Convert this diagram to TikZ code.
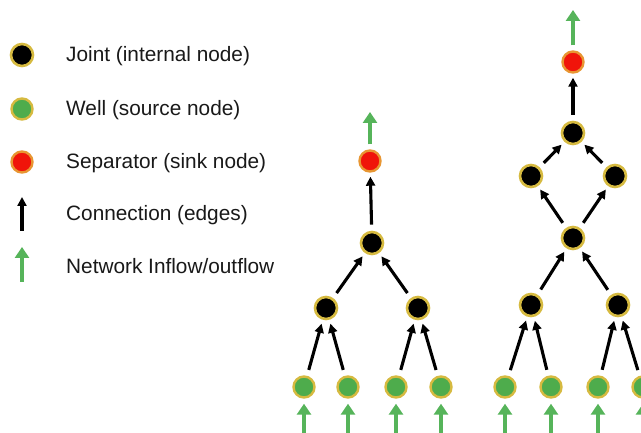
\documentclass[tikz,border=0pt]{standalone}
\usepackage{fontspec}
\setmainfont{Liberation Sans}
\usetikzlibrary{arrows.meta}
\definecolor{ringY}{RGB}{214,186,64}
\definecolor{ringO}{RGB}{232,150,50}
\definecolor{wellG}{RGB}{78,172,76}
\definecolor{flowG}{RGB}{86,180,90}
\definecolor{sepR}{RGB}{240,20,10}
\definecolor{txt}{RGB}{25,25,25}
\tikzset{
  joint/.style={circle, fill=black, draw=ringY, line width=2.6pt, minimum size=22pt, inner sep=0pt},
  well/.style={circle, fill=wellG, draw=ringY, line width=2.4pt, minimum size=21pt, inner sep=0pt},
  sep/.style={circle, fill=sepR, draw=ringO, line width=2.4pt, minimum size=21pt, inner sep=0pt},
  conn/.style={draw=black, line width=3.1pt, -{Triangle[length=9pt,width=9pt]}, shorten <=6pt, shorten >=4pt},
  flow/.style={draw=flowG, line width=4.6pt, -{Triangle[length=11pt,width=14pt]}},
  legtxt/.style={anchor=west, text=txt, font=\fontsize{20.8}{24}\selectfont, inner sep=0pt}
}
\begin{document}
\begin{tikzpicture}[x=1pt,y=-1pt]
\useasboundingbox (0,0) rectangle (641,433);
\clip (0,0) rectangle (641,433);
\fill[white] (0,0) rectangle (641,433);
% legend
\node[joint] (lj) at (22,55) {};
\node[well] (lw) at (22,109) {};
\node[sep] (ls) at (22,162) {};
\coordinate (lcA) at (22,231);
\coordinate (lcB) at (22,197);
\draw[draw=black, line width=3.1pt, -{Triangle[length=9pt,width=9pt]}] (lcA) -- (lcB);
\coordinate (lfA) at (22,282);
\coordinate (lfB) at (22,247);
\draw[flow] (lfA) -- (lfB);
\node[legtxt] (tj) at (66,56) {Joint (internal node)};
\node[legtxt] (tw) at (66,110) {Well (source node)};
\node[legtxt] (ts) at (66,163) {Separator (sink node)};
\node[legtxt] (tc) at (66,215) {Connection (edges)};
\node[legtxt] (tf) at (66,266) {Network Inflow/outflow};
% left tree
\node[sep] (As) at (370,161) {};
\node[joint] (Aj) at (372,243) {};
\node[joint] (Al) at (326,308) {};
\node[joint] (Ar) at (418,308) {};
\node[well] (Aw1) at (304,387) {};
\node[well] (Aw2) at (348,387) {};
\node[well] (Aw3) at (396,387) {};
\node[well] (Aw4) at (441,387) {};
\coordinate (Aout) at (370,112);
\draw[flow, shorten <=5pt] (As) -- (Aout);
\draw[conn] (Aj) -- (As);
\draw[conn] (Al) -- (Aj);
\draw[conn] (Ar) -- (Aj);
\draw[conn] (Aw1) -- (Al);
\draw[conn] (Aw2) -- (Al);
\draw[conn] (Aw3) -- (Ar);
\draw[conn] (Aw4) -- (Ar);
\foreach \w in {Aw1,Aw2,Aw3,Aw4}{
  \coordinate (\w in) at ([yshift=-50pt]\w.center);
  \draw[flow, shorten >=5pt] (\w in) -- (\w);
}
% right tree
\node[sep] (Bs) at (573,62) {};
\node[joint] (Bj) at (573,133) {};
\node[joint] (Bdl) at (531,176) {};
\node[joint] (Bdr) at (615,176) {};
\node[joint] (Bm) at (573,238) {};
\node[joint] (Bl) at (531,305) {};
\node[joint] (Br) at (618,305) {};
\node[well] (Bw1) at (505,387) {};
\node[well] (Bw2) at (551,387) {};
\node[well] (Bw3) at (598,387) {};
\node[well] (Bw4) at (643,387) {};
\coordinate (Bout) at (573,10);
\draw[flow, shorten <=5pt] (Bs) -- (Bout);
\draw[conn] (Bj) -- (Bs);
\draw[conn] (Bdl) -- (Bj);
\draw[conn] (Bdr) -- (Bj);
\draw[conn] (Bm) -- (Bdl);
\draw[conn] (Bm) -- (Bdr);
\draw[conn] (Bl) -- (Bm);
\draw[conn] (Br) -- (Bm);
\draw[conn] (Bw1) -- (Bl);
\draw[conn] (Bw2) -- (Bl);
\draw[conn] (Bw3) -- (Br);
\draw[conn] (Bw4) -- (Br);
\foreach \w in {Bw1,Bw2,Bw3,Bw4}{
  \coordinate (\w in) at ([yshift=-50pt]\w.center);
  \draw[flow, shorten >=5pt] (\w in) -- (\w);
}
\end{tikzpicture}
\end{document}
